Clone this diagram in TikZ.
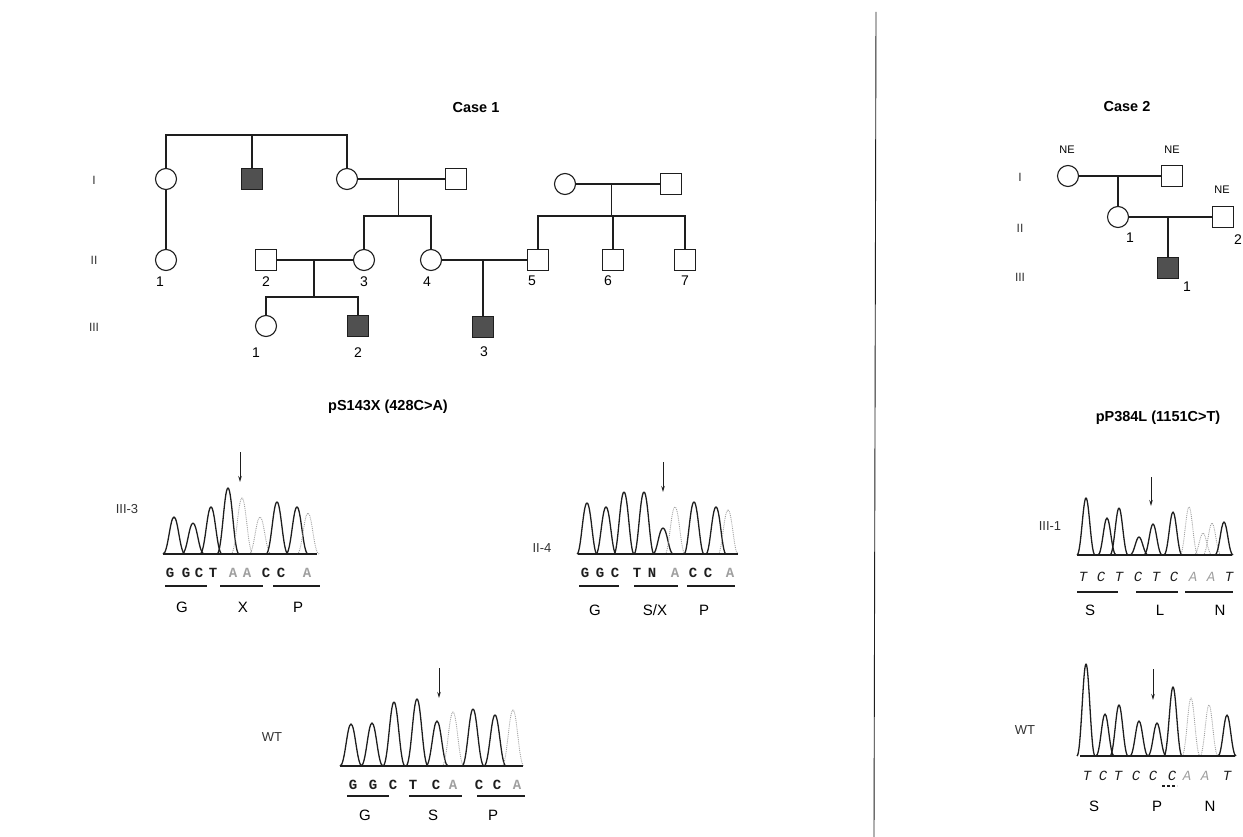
\documentclass[tikz,border=0pt]{standalone}
\usepackage{fontspec}
\setmainfont{Liberation Sans}
\setmonofont{Liberation Mono}
\usetikzlibrary{positioning,arrows.meta,calc}
\definecolor{inkgray}{HTML}{1E1E1E}
\definecolor{fillgray}{HTML}{505050}
\definecolor{fadegray}{HTML}{A0A0A0}

\begin{document}
\begin{tikzpicture}[x=1pt,y=-1pt,
 line/.style={line width=1.1pt,inkgray},
 fem/.style={circle,draw=inkgray,line width=1.1pt,minimum size=21pt,inner sep=0pt},
 mal/.style={rectangle,draw=inkgray,line width=1.1pt,minimum size=21pt,inner sep=0pt},
 aff/.style={fill=fillgray},
 num/.style={font=\fontsize{14}{14}\selectfont,inner sep=0pt},
 gen/.style={font=\fontsize{12}{12}\selectfont,inner sep=0pt,text=black!80},
 ttl/.style={font=\bfseries\fontsize{14.5}{14.5}\selectfont,inner sep=0pt},
 ne/.style={font=\fontsize{11}{11}\selectfont,inner sep=0pt},
 lab/.style={font=\fontsize{13}{13}\selectfont,inner sep=0pt,text=black!80},
 peak/.style={line width=1.3pt,inkgray,line join=round},
 faint/.style={line width=.9pt,fadegray,densely dotted},
 seq/.style={font=\ttfamily\bfseries\fontsize{14}{14}\selectfont,inner sep=0pt},
 seqit/.style={font=\ttfamily\itshape\fontsize{14}{14}\selectfont,inner sep=0pt},
 aa/.style={font=\fontsize{15}{15}\selectfont,inner sep=0pt},
 hit/.style={-{Stealth[length=6pt,width=3.5pt]},line width=1pt,inkgray},
 uline/.style={line width=1.1pt,inkgray}]
\useasboundingbox (0,0) rectangle (1243,837);

% titles
\node[ttl] (case1) at (476,108) {Case 1};
\node[ttl] (case2) at (1127,107) {Case 2};
\node[ttl] (mut1) at (388,407) {pS143X (428C>A)};
\node[ttl] (mut2) at (1158,418) {pP384L (1151C>T)};
\draw[line,line width=.9pt] (876,12) -- (874,837);

% case 1 pedigree
\node[gen] (g1a) at (94,180) {I};
\node[gen] (g1b) at (94,260) {II};
\node[gen] (g1c) at (94,327) {III};
\node[fem] (c1Ia) at (166,179) {};
\node[mal,aff] (c1Ib) at (252,179) {};
\node[fem] (c1Ic) at (347,179) {};
\node[mal] (c1Id) at (456,179) {};
\node[fem] (c1Ie) at (565,184) {};
\node[mal] (c1If) at (671,184) {};
\node[fem] (c1IIa) at (166,260) {};
\node[mal] (c1IIb) at (266,260) {};
\node[fem] (c1IIc) at (364,260) {};
\node[fem] (c1IId) at (431,260) {};
\node[mal] (c1IIe) at (538,260) {};
\node[mal] (c1IIf) at (613,260) {};
\node[mal] (c1IIg) at (685,260) {};
\node[fem] (c1IIIa) at (266,326) {};
\node[mal,aff] (c1IIIb) at (358,326) {};
\node[mal,aff] (c1IIIc) at (483,327) {};
\coordinate (c1sib) at (252,135);
\draw[line] (c1Ia.north) |- (c1sib) -| (c1Ic.north);
\draw[line] (c1Ib.north) -- (c1sib);
\draw[line] (c1Ia) -- (c1IIa);
\draw[line] (c1Ic) -- (c1Id);
\coordinate (c1m1) at ($(c1Ic)!.47!(c1Id)$);
\coordinate (c1s1) at ($(c1m1)+(0,37)$);
\draw[line] (c1m1) -- (c1s1);
\draw[line] (c1IIc.north) |- (c1s1) -| (c1IId.north);
\draw[line] (c1Ie) -- (c1If);
\coordinate (c1m2) at ($(c1Ie)!.44!(c1If)$);
\coordinate (c1s2) at ($(c1m2)+(0,32)$);
\draw[line] (c1m2) -- (c1s2);
\draw[line] (c1IIe.north) |- (c1s2) -| (c1IIg.north);
\draw[line] (c1IIf.north) -- (c1IIf.north |- c1s2);
\draw[line] (c1IIb) -- (c1IIc);
\coordinate (c1m3) at ($(c1IIb)!.49!(c1IIc)$);
\coordinate (c1s3) at ($(c1m3)+(0,37)$);
\draw[line] (c1m3) -- (c1s3);
\draw[line] (c1IIIa.north) |- (c1s3) -| (c1IIIb.north);
\draw[line] (c1IId) -- (c1IIe);
\draw[line] (c1IIIc.north |- c1IId) -- (c1IIIc.north);
\foreach \nx/\ny/\nt [count=\i] in {160/282/1,266/282/2,364/282/3,427/282/4,532/281/5,608/281/6,685/281/7,256/353/1,358/353/2,484/352/3}
  \node[num] (n1-\i) at (\nx,\ny) {\nt};

% case 2 pedigree
\node[gen] (g2a) at (1020,177) {I};
\node[gen] (g2b) at (1020,228) {II};
\node[gen] (g2c) at (1020,277) {III};
\node[fem] (c2Ia) at (1068,176) {};
\node[mal] (c2Ib) at (1172,176) {};
\node[fem] (c2IIa) at (1118,217) {};
\node[mal] (c2IIb) at (1223,217) {};
\node[mal,aff] (c2IIIa) at (1168,268) {};
\draw[line] (c2Ia) -- (c2Ib);
\draw[line] (c2IIa.north |- c2Ia) -- (c2IIa.north);
\draw[line] (c2IIa) -- (c2IIb);
\draw[line] (c2IIIa.north |- c2IIa) -- (c2IIIa.north);
\node[ne] (ne1) at (1067,150) {NE};
\node[ne] (ne2) at (1172,150) {NE};
\node[ne] (ne3) at (1222,190) {NE};
\node[num] (n2-1) at (1130,238) {1};
\node[num] (n2-2) at (1238,240) {2};
\node[num] (n2-3) at (1187,287) {1};

% chromatogram III-3
\node[lab] (l33) at (127,509) {III-3};
\draw[hit] (240,452) -- (240,482);
\foreach \px/\py/\ps in {174/517/peak,193/523/peak,211/507/peak,228/488/peak,242/498/faint,260/517/faint,277/502/peak,297/507/peak,308/513/faint}
  \draw[\ps] ({\px-11},554) .. controls ({\px-6},554) and ({\px-4},\py) .. (\px,\py) .. controls ({\px+4},\py) and ({\px+6},554) .. ({\px+11},554);
\draw[line] (163,554) -- (317,554);
\foreach \bx/\bl/\bc [count=\i] in {170/G/inkgray,186/G/inkgray,199/C/inkgray,213/T/inkgray,233/A/fadegray,247/A/fadegray,266/C/inkgray,281/C/inkgray,307/A/fadegray}
  \node[seq,text=\bc] (s33-\i) at (\bx,573) {\bl};
\draw[uline] (165,586) -- (207,586);
\draw[uline] (220,586) -- (263,586);
\draw[uline] (273,586) -- (320,586);
\node[aa] (a33-1) at (182,607) {G};
\node[aa] (a33-2) at (243,607) {X};
\node[aa] (a33-3) at (298,607) {P};

% chromatogram II-4
\node[lab] (l24) at (542,548) {II-4};
\draw[hit] (663,462) -- (663,492);
\foreach \px/\py/\ps in {587/503/peak,606/507/peak,624/492/peak,644/492/peak,663/528/peak,675/507/faint,694/502/peak,716/507/peak,728/510/faint}
  \draw[\ps] ({\px-10},554) .. controls ({\px-6},554) and ({\px-4},\py) .. (\px,\py) .. controls ({\px+4},\py) and ({\px+6},554) .. ({\px+10},554);
\draw[line] (578,554) -- (738,554);
\foreach \bx/\bl/\bc [count=\i] in {585/G/inkgray,600/G/inkgray,615/C/inkgray,637/T/inkgray,652/N/inkgray,675/A/fadegray,693/C/inkgray,708/C/inkgray,730/A/fadegray}
  \node[seq,text=\bc] (s24-\i) at (\bx,573) {\bl};
\draw[uline] (579,586) -- (619,586);
\draw[uline] (634,586) -- (678,586);
\draw[uline] (687,586) -- (735,586);
\node[aa] (a24-1) at (595,610) {G};
\node[aa] (a24-2) at (655,610) {S/X};
\node[aa] (a24-3) at (704,610) {P};

% chromatogram WT, case 1
\node[lab] (lw1) at (272,737) {WT};
\draw[hit] (439,668) -- (439,698);
\foreach \px/\py/\ps in {351/724/peak,372/723/peak,394/702/peak,417/699/peak,437/721/peak,453/712/faint,473/709/peak,495/715/peak,513/710/faint}
  \draw[\ps] ({\px-11},766) .. controls ({\px-6},766) and ({\px-4},\py) .. (\px,\py) .. controls ({\px+4},\py) and ({\px+6},766) .. ({\px+11},766);
\draw[line] (340,766) -- (523,766);
\foreach \bx/\bl/\bc [count=\i] in {353/G/inkgray,373/G/inkgray,393/C/inkgray,413/T/inkgray,436/C/inkgray,453/A/fadegray,479/C/inkgray,497/C/inkgray,517/A/fadegray}
  \node[seq,text=\bc] (sw1-\i) at (\bx,785) {\bl};
\draw[uline] (347,796) -- (389,796);
\draw[uline] (409,796) -- (462,796);
\draw[uline] (477,796) -- (525,796);
\node[aa] (aw1-1) at (365,815) {G};
\node[aa] (aw1-2) at (433,815) {S};
\node[aa] (aw1-3) at (493,815) {P};

% chromatogram III-1
\node[lab] (l31) at (1050,526) {III-1};
\draw[hit] (1151,477) -- (1151,506);
\foreach \px/\py/\ps in {1086/498/peak,1107/518/peak,1119/508/peak,1139/537/peak,1153/524/peak,1173/512/peak,1189/507/faint,1203/533/faint,1212/523/faint,1224/522/peak}
  \draw[\ps] ({\px-9},555) .. controls ({\px-5},555) and ({\px-3},\py) .. (\px,\py) .. controls ({\px+3},\py) and ({\px+5},555) .. ({\px+9},555);
\draw[line] (1077,555) -- (1232,555);
\foreach \bx/\bl/\bc [count=\i] in {1083/T/inkgray,1101/C/inkgray,1119/T/inkgray,1138/C/inkgray,1156/T/inkgray,1174/C/inkgray,1193/A/fadegray,1211/A/fadegray,1229/T/inkgray}
  \node[seqit,text=\bc] (s31-\i) at (\bx,577) {\bl};
\draw[uline] (1077,592) -- (1118,592);
\draw[uline] (1136,592) -- (1178,592);
\draw[uline] (1185,592) -- (1233,592);
\node[aa] (a31-1) at (1090,610) {S};
\node[aa] (a31-2) at (1160,610) {L};
\node[aa] (a31-3) at (1220,610) {N};

% chromatogram WT, case 2
\node[lab] (lw2) at (1025,730) {WT};
\draw[hit] (1153,669) -- (1153,700);
\foreach \px/\py/\ps in {1086/664/peak,1105/714/peak,1119/705/peak,1139/721/peak,1157/723/peak,1173/687/peak,1191/698/faint,1209/705/faint,1227/715/peak}
  \draw[\ps] ({\px-9},756) .. controls ({\px-5},756) and ({\px-3},\py) .. (\px,\py) .. controls ({\px+3},\py) and ({\px+5},756) .. ({\px+9},756);
\draw[line] (1080,756) -- (1235,756);
\foreach \bx/\bl/\bc [count=\i] in {1087/T/inkgray,1103/C/inkgray,1118/T/inkgray,1136/C/inkgray,1153/C/inkgray,1172/C/inkgray,1187/A/fadegray,1205/A/fadegray,1227/T/inkgray}
  \node[seqit,text=\bc] (sw2-\i) at (\bx,776) {\bl};
\draw[uline,densely dashed] (1162,786) -- (1177,786);
\node[aa] (aw2-1) at (1094,806) {S};
\node[aa] (aw2-2) at (1157,806) {P};
\node[aa] (aw2-3) at (1210,806) {N};
\end{tikzpicture}
\end{document}
